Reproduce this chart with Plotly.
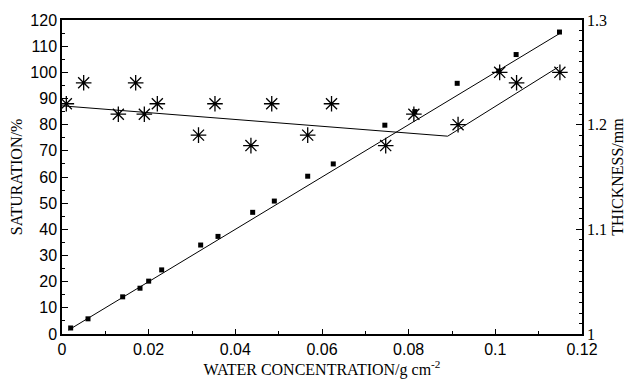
import plotly.graph_objects as go

# Saturation data (squares, left axis)
sat_x = [0.002, 0.006, 0.014, 0.018, 0.020, 0.023, 0.032, 0.036, 0.044, 0.049,
         0.0567, 0.0626, 0.0745, 0.0814, 0.0912, 0.1008, 0.1048, 0.1148]
sat_y = [2.3, 5.8, 14.2, 17.5, 20.2, 24.5, 34.0, 37.3, 46.5, 50.8,
         60.3, 65.0, 79.8, 85.0, 95.8, 100.5, 106.8, 115.4]

# Thickness data (stars, right axis)
thk_x = [0.001, 0.005, 0.013, 0.017, 0.019, 0.022, 0.0315, 0.0353, 0.0436, 0.0484,
         0.0567, 0.0622, 0.0747, 0.0812, 0.0914, 0.101, 0.1049, 0.1149]
thk_y = [1.22, 1.24, 1.21, 1.24, 1.21, 1.22, 1.19, 1.22, 1.18, 1.22,
         1.19, 1.22, 1.18, 1.21, 1.20, 1.25, 1.24, 1.25]

# Fitted lines
sat_fit_x = [0.0015, 0.115]
sat_fit_y = [1.5, 115.0]
thk_fit_x = [0.0, 0.089, 0.1145]
thk_fit_y = [1.218, 1.189, 1.255]

serif = "Liberation Serif, Times New Roman, serif"
sans = "Liberation Sans, Arial, sans-serif"

fig = go.Figure()
fig.add_trace(go.Scatter(x=sat_fit_x, y=sat_fit_y, mode="lines",
                         line=dict(color="black", width=1), showlegend=False))
fig.add_trace(go.Scatter(x=sat_x, y=sat_y, mode="markers",
                         marker=dict(symbol="square", size=5, color="black"),
                         showlegend=False))
fig.add_trace(go.Scatter(x=thk_fit_x, y=thk_fit_y, mode="lines", yaxis="y2",
                         line=dict(color="black", width=1), showlegend=False))
fig.add_trace(go.Scatter(x=thk_x, y=thk_y, mode="markers", yaxis="y2",
                         marker=dict(symbol="asterisk-open", size=13, color="black",
                                     line=dict(color="black", width=1.3)),
                         showlegend=False))

fig.update_layout(
    width=627, height=379,
    margin=dict(l=62, r=45, t=20, b=45),
    paper_bgcolor="white", plot_bgcolor="white",
    xaxis=dict(range=[0, 0.12], dtick=0.02, tick0=0, showgrid=False, zeroline=False,
               automargin=False,
               showline=True, linecolor="black", linewidth=1.5, mirror=True,
               ticks="inside", ticklen=5, tickcolor="black",
               minor=dict(dtick=0.01, ticks="inside", ticklen=3, tickcolor="black"),
               tickfont=dict(family=sans, size=16, color="black"),
               title=dict(text="WATER CONCENTRATION/g cm<sup>-2</sup>",
                          font=dict(family=serif, size=16, color="black"),
                          standoff=10)),
    yaxis=dict(range=[0, 120], dtick=10, showgrid=False, zeroline=False,
               automargin=False,
               showline=True, linecolor="black", linewidth=1.5,
               ticks="inside", ticklen=6, tickcolor="black",
               minor=dict(dtick=5, ticks="inside", ticklen=3, tickcolor="black"),
               tickfont=dict(family=sans, size=16, color="black"),
               title=dict(text="SATURATION/%",
                          font=dict(family=serif, size=16, color="black"),
                          standoff=4)),
    yaxis2=dict(range=[1, 1.3], dtick=0.1, overlaying="y", side="right",
                automargin=False,
                showgrid=False, zeroline=False,
                showline=True, linecolor="black", linewidth=1.5,
                ticks="inside", ticklen=6, tickcolor="black",
                minor=dict(dtick=0.01, ticks="inside", ticklen=3, tickcolor="black"),
                tickfont=dict(family=serif, size=16, color="black"),
                title=dict(text="THICKNESS/mm",
                           font=dict(family=serif, size=16, color="black"),
                           standoff=6)),
)

fig.write_html("out.html")
